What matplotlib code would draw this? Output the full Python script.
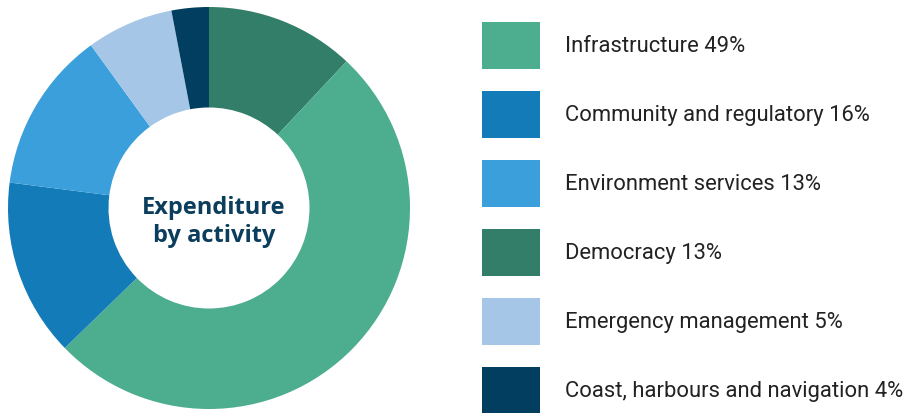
import matplotlib
matplotlib.use('Agg')
import matplotlib.pyplot as plt

# slice shares as drawn (clockwise from 12 o'clock)
pie_labels = ['Democracy', 'Infrastructure', 'Community and regulatory',
              'Environment services', 'Emergency management',
              'Coast, harbours and navigation']
pie_shares = [12.0, 50.8, 14.3, 13.0, 7.0, 3.0]
pie_colors = ['#337e68', '#4dad8f', '#137bb8', '#3a9fda', '#a5c6e6', '#023e5f']

# legend order and printed percentages
legend_labels = ['Infrastructure', 'Community and regulatory', 'Environment services',
                 'Democracy', 'Emergency management', 'Coast, harbours and navigation']
legend_pcts = [49, 16, 13, 13, 5, 4]

center_text = 'Expenditure\nby activity'

W, H = 908, 413
fig = plt.figure(figsize=(W / 100, H / 100), dpi=100)

cx, cy, r = 209, 208, 201
ax = fig.add_axes([(cx - r) / W, (H - cy - r) / H, 2 * r / W, 2 * r / H])
wedges, _ = ax.pie(pie_shares, colors=pie_colors, startangle=90, counterclock=False,
                   radius=1, wedgeprops=dict(width=0.5, linewidth=0))
ax.set_xlim(-1, 1)
ax.set_ylim(-1, 1)
ax.set_aspect('equal')
ax.axis('off')

ax.text(0.025, -0.07, center_text, ha='center', va='center', fontsize=17,
        fontweight='bold', color='#0b3d5c', family='Open Sans', linespacing=1.2)

handles = [wedges[pie_labels.index(l)] for l in legend_labels]
texts = [f'{l} {p}%' for l, p in zip(legend_labels, legend_pcts)]
fs = 15.8
px = fs * 100 / 72
hh = (47 / px - 0.245) / 0.65
leg = fig.legend(handles, texts, loc='upper left',
                 bbox_to_anchor=(482 / W, (H - 22) / H), frameon=False,
                 borderpad=0, borderaxespad=0,
                 handlelength=58 / px, handleheight=hh,
                 handletextpad=25 / px, labelspacing=22 / px,
                 prop=dict(family='Roboto', size=fs))
for t in leg.get_texts():
    t.set_color('#222222')

fig.savefig('out.png', dpi=100)
